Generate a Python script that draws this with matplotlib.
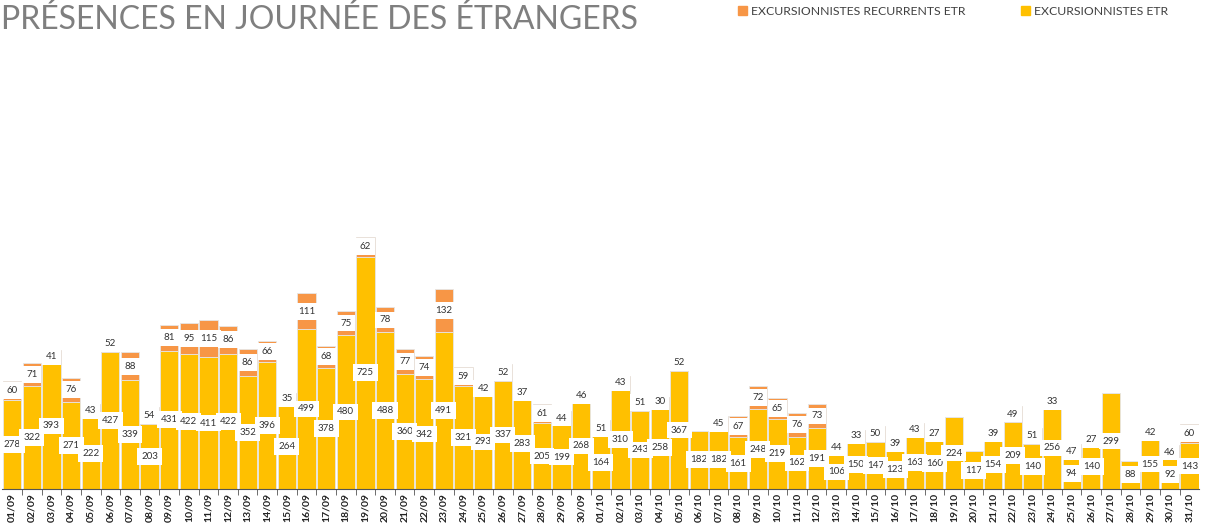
import matplotlib.pyplot as plt
from matplotlib.patches import Patch

# data
days = ["01/09", "02/09", "03/09", "04/09", "05/09", "06/09", "07/09", "08/09", "09/09", "10/09",
        "11/09", "12/09", "13/09", "14/09", "15/09", "16/09", "17/09", "18/09", "19/09", "20/09",
        "21/09", "22/09", "23/09", "24/09", "25/09", "26/09", "27/09", "28/09", "29/09", "30/09",
        "01/10", "02/10", "03/10", "04/10", "05/10", "06/10", "07/10", "08/10", "09/10", "10/10",
        "11/10", "12/10", "13/10", "14/10", "15/10", "16/10", "17/10", "18/10", "19/10", "20/10",
        "21/10", "22/10", "23/10", "24/10", "25/10", "26/10", "27/10", "28/10", "29/10", "30/10",
        "31/10"]

excursionnistes = [278, 322, 393, 271, 222, 427, 339, 203, 431, 422,
                   411, 422, 352, 396, 264, 499, 378, 480, 725, 488,
                   360, 342, 491, 321, 293, 337, 283, 205, 199, 268,
                   164, 310, 243, 258, 367, 182, 182, 161, 248, 219,
                   162, 191, 106, 150, 147, 123, 163, 160, 224, 117,
                   154, 209, 140, 256, 94, 140, 299, 88, 155, 92,
                   143]

recurrents = [60, 71, 41, 76, 43, 52, 88, 54, 81, 95,
              115, 86, 86, 66, 35, 111, 68, 75, 62, 78,
              77, 74, 132, 59, 42, 52, 37, 61, 44, 46,
              51, 43, 51, 30, 52, 0, 45, 67, 72, 65,
              76, 73, 44, 33, 50, 39, 43, 27, 0, 0,
              39, 49, 51, 33, 47, 27, 0, 0, 42, 46,
              60]

YELLOW = "#FFC000"
ORANGE = "#F79646"

plt.rcParams["font.family"] = ["Lato", "DejaVu Sans"]

fig = plt.figure(figsize=(12.15, 5.28), dpi=100)
ax = fig.add_axes([0.002, 0.074, 0.985, 0.85])

x = list(range(len(days)))
ax.bar(x, excursionnistes, width=0.93, color=YELLOW, edgecolor="#e6e6e6", linewidth=0.6)
ax.bar(x, recurrents, bottom=excursionnistes, width=0.93, color=ORANGE,
       edgecolor="#e6e6e6", linewidth=0.6)

box = dict(boxstyle="square,pad=0.4", facecolor="white", edgecolor="none")
for i in x:
    ax.text(i, excursionnistes[i] / 2, str(excursionnistes[i]), ha="center", va="center",
            fontsize=7, color="#333333", bbox=box)
    if recurrents[i]:
        ax.text(i, excursionnistes[i] + recurrents[i] / 2, str(recurrents[i]), ha="center",
                va="center", fontsize=7, color="#333333", bbox=box)

ax.set_xlim(-0.5, len(days) - 0.5)
ax.set_ylim(0, 1400)
ax.set_xticks(x)
ax.set_xticklabels(days, rotation=90, fontsize=7.5, fontweight="bold", color="#222222")
ax.set_xticks([i + 0.5 for i in x[:-1]], minor=True)
ax.tick_params(axis="x", which="major", length=0, pad=3)
ax.tick_params(axis="x", which="minor", length=4, color="#555555")
ax.set_yticks([])
for side in ["top", "right", "left"]:
    ax.spines[side].set_visible(False)
ax.spines["bottom"].set_color("#555555")

fig.text(0.001, 0.992, "PRÉSENCES EN JOURNÉE DES ÉTRANGERS", fontsize=23, color="#7f7f7f",
         ha="left", va="top")

handles = [Patch(color=ORANGE, label="EXCURSIONNISTES RECURRENTS ETR"),
           Patch(color=YELLOW, label="EXCURSIONNISTES ETR")]
fig.legend(handles=handles, loc="upper left", bbox_to_anchor=(0.598, 1.01), ncol=2,
           frameon=False, fontsize=8.8, handlelength=0.8, handleheight=0.8,
           handletextpad=0.3, columnspacing=4.5, labelcolor="#404040")

fig.savefig("out.png", dpi=100)
